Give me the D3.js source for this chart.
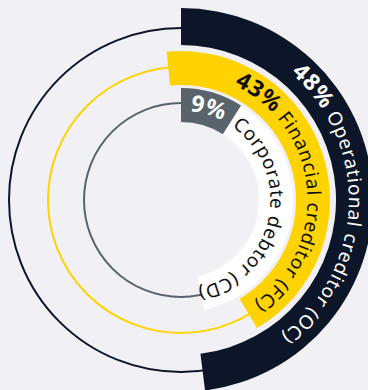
<!DOCTYPE html>
<html>
<head>
<meta charset="utf-8">
<script src="https://cdn.jsdelivr.net/npm/d3@7"></script>
<style>
  html, body { margin: 0; padding: 0; background: #f0f0f5; }
  svg { display: block; }
  text { font-family: "Noto Sans", "Open Sans", sans-serif; }
</style>
</head>
<body>
<div id="chart"></div>
<script>
// Share of applications by type of applicant
const categories = ["Operational creditor (OC)", "Financial creditor (FC)", "Corporate debtor (CD)"];
const shares = [48, 43, 9];
const shareLabels = ["48%", "43%", "9%"];

const W = 368, H = 390;
const cx = 181, cy = 200;

// ring geometry, outermost first
const rings = [
  { inner: 155, outer: 192, guide: 172, color: "#0c1628", text: "#ffffff", rotate: 0,    labelAt: 41 },
  { inner: 115, outer: 149, guide: 133, color: "#ffd300", text: "#111111", rotate: -5.5, labelAt: 25 },
  { inner: 78,  outer: 112, guide: 97,  color: "#59636c", text: "#ffffff", rotate: 0,    labelAt: 6 }
];

const angle = d3.scaleLinear().domain([0, 100]).range([0, 2 * Math.PI]);
const deg = d => d * Math.PI / 180;

const svg = d3.select("#chart").append("svg")
  .attr("width", W).attr("height", H);

svg.append("rect").attr("width", W).attr("height", H).attr("fill", "#f0f0f5");

const g = svg.append("g").attr("transform", `translate(${cx},${cy})`);

// thin full-circle guides
g.selectAll("circle.guide")
  .data(rings)
  .join("circle")
  .attr("class", "guide")
  .attr("r", d => d.guide)
  .attr("fill", "none")
  .attr("stroke", d => d.color)
  .attr("stroke-width", 2);

const arc = d3.arc();

// white label band on the inner ring, after the corporate debtor bar
const inner = rings[2];
g.append("path")
  .attr("d", arc({
    innerRadius: inner.inner, outerRadius: inner.outer,
    startAngle: angle(shares[2]), endAngle: deg(168)
  }))
  .attr("fill", "#ffffff");

// value bars
g.selectAll("path.bar")
  .data(rings)
  .join("path")
  .attr("class", "bar")
  .attr("d", (d, i) => arc({
    innerRadius: d.inner, outerRadius: d.outer,
    startAngle: deg(d.rotate) + angle(0),
    endAngle: deg(d.rotate) + angle(shares[i])
  }))
  .attr("fill", d => d.color);

// clockwise arc path for text, from a0 to a1 (degrees, 0 = 12 o'clock)
function arcPath(r, a0, a1) {
  const p = a => [r * Math.sin(deg(a)), -r * Math.cos(deg(a))];
  const [x0, y0] = p(a0), [x1, y1] = p(a1);
  const large = (a1 - a0) > 180 ? 1 : 0;
  return `M${x0},${y0} A${r},${r} 0 ${large} 1 ${x1},${y1}`;
}

const defs = svg.append("defs");
function label(id, r, a0, a1) {
  defs.append("path").attr("id", id).attr("d", arcPath(r, a0, a1))
    .attr("transform", `translate(${cx},${cy})`);
}

const nameSize = 19, shareSize = 23, spacing = 1.2;

// outer two rings: bold share followed by the category name
[0, 1].forEach(i => {
  const d = rings[i];
  const r = (d.inner + d.outer) / 2;
  label("lab" + i, r, d.labelAt, 220);
  const t = svg.append("text").attr("fill", d.text).attr("dy", "0.35em")
    .attr("letter-spacing", spacing);
  const tp = t.append("textPath").attr("href", "#lab" + i);
  tp.append("tspan").attr("font-weight", 700).attr("font-size", shareSize).text(shareLabels[i]);
  tp.append("tspan").attr("font-size", nameSize).text(" " + categories[i]);
});

// inner ring: share on the bar, name on the white band
{
  const r = (inner.inner + inner.outer) / 2;
  label("lab2a", r, inner.labelAt, 60);
  svg.append("text").attr("fill", inner.text).attr("dy", "0.35em")
    .attr("letter-spacing", spacing)
    .append("textPath").attr("href", "#lab2a")
    .append("tspan").attr("font-weight", 700).attr("font-size", shareSize).text(shareLabels[2]);
  label("lab2b", r, 35, 220);
  svg.append("text").attr("fill", "#111111").attr("dy", "0.35em")
    .attr("letter-spacing", spacing)
    .append("textPath").attr("href", "#lab2b")
    .append("tspan").attr("font-size", nameSize).text(categories[2]);
}
</script>
</body>
</html>
